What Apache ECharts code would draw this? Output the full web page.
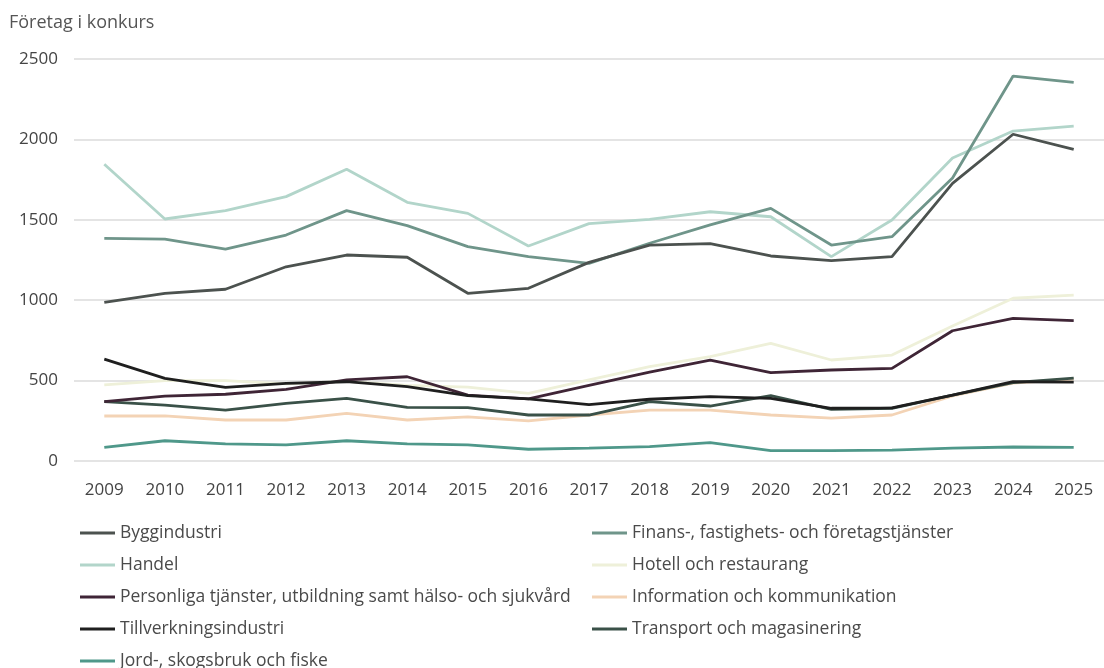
<!DOCTYPE html>
<html>
<head>
<meta charset="utf-8">
<script src="https://cdn.jsdelivr.net/npm/echarts@6/dist/echarts.min.js"></script>
<style>
html,body{margin:0;padding:0;background:#fff;}
#chart{width:1104px;height:668px;}
</style>
</head>
<body>
<div id="chart"></div>
<script>
const years = ['2009','2010','2011','2012','2013','2014','2015','2016','2017','2018','2019','2020','2021','2022','2023','2024','2025'];
const yTicks = [0, 500, 1000, 1500, 2000, 2500];
const yTitle = 'Företag i konkurs';

const byggindustri   = [987, 1043, 1068, 1208, 1281, 1267, 1043, 1074, 1235, 1343, 1352, 1275, 1246, 1271, 1727, 2032, 1938];
const finans         = [1385, 1380, 1318, 1405, 1557, 1464, 1333, 1271, 1229, 1354, 1468, 1571, 1343, 1395, 1760, 2394, 2355];
const handel         = [1845, 1505, 1557, 1644, 1814, 1609, 1540, 1337, 1476, 1503, 1550, 1519, 1271, 1499, 1884, 2052, 2083];
const hotell         = [473, 500, 500, 480, 495, 470, 460, 420, 504, 587, 649, 732, 628, 659, 840, 1012, 1032];
const personliga     = [369, 404, 415, 446, 504, 524, 410, 386, 470, 552, 628, 549, 566, 576, 810, 887, 873];
const information    = [280, 280, 255, 255, 296, 255, 274, 250, 286, 317, 317, 286, 267, 286, 405, 485, 510];
const tillverkning   = [634, 514, 458, 483, 493, 462, 406, 386, 350, 384, 400, 390, 328, 330, 410, 493, 490];
const transport      = [369, 348, 317, 359, 390, 334, 332, 286, 286, 369, 342, 406, 321, 328, 410, 487, 515];
const jord           = [85, 126, 106, 100, 126, 106, 100, 73, 80, 89, 114, 64, 64, 68, 80, 87, 85];

const names = {
  bygg: 'Byggindustri',
  finans: 'Finans-, fastighets- och företagstjänster',
  handel: 'Handel',
  hotell: 'Hotell och restaurang',
  pers: 'Personliga tjänster, utbildning samt hälso- och sjukvård',
  info: 'Information och kommunikation',
  till: 'Tillverkningsindustri',
  trans: 'Transport och magasinering',
  jord: 'Jord-, skogsbruk och fiske'
};

const FONT = '"Open Sans", sans-serif';

function line(name, data, color, z) {
  return {
    name: name, type: 'line', data: data, symbol: 'none', showSymbol: false,
    lineStyle: { color: color, width: 2.8 }, itemStyle: { color: color },
    z: z, emphasis: { disabled: true }
  };
}

const chart = echarts.init(document.getElementById('chart'), null, { renderer: 'canvas' });

const legendCommon = {
  orient: 'vertical',
  icon: 'rect',
  itemWidth: 35,
  itemHeight: 3,
  itemGap: 14,
  padding: 0,
  height: 200,
  selectedMode: false,
  textStyle: { fontFamily: FONT, fontSize: 17.5, color: '#4a4a4a', lineHeight: 17 }
};

chart.setOption({
  animation: false,
  backgroundColor: '#ffffff',
  title: {
    text: yTitle, left: 4, top: 9,
    textStyle: { fontFamily: FONT, fontSize: 18, fontWeight: 'normal', color: '#555' }
  },
  grid: { left: 74, top: 59, width: 1038, height: 402, containLabel: false },
  legend: [
    Object.assign({}, legendCommon, { left: 80, top: 524, data: [names.bygg, names.handel, names.pers, names.till, names.jord] }),
    Object.assign({}, legendCommon, { left: 592, top: 524, data: [names.finans, names.hotell, names.info, names.trans] })
  ],
  xAxis: {
    type: 'category', data: years, boundaryGap: true,
    axisLine: { show: false }, axisTick: { show: false },
    axisLabel: { fontFamily: FONT, fontSize: 17, color: '#444', margin: 21 }
  },
  yAxis: {
    type: 'value', min: yTicks[0], max: yTicks[yTicks.length - 1], interval: 500,
    axisLine: { show: false }, axisTick: { show: false },
    axisLabel: { fontFamily: FONT, fontSize: 17, color: '#444', margin: 16, formatter: function (v) { return String(v); } },
    splitLine: { lineStyle: { color: '#e4e4e4', width: 2 } }
  },
  series: [
    line(names.jord, jord, '#4f988a', 2),
    line(names.hotell, hotell, '#eef0d9', 2),
    line(names.info, information, '#f3d3b5', 2),
    line(names.handel, handel, '#b2d5ca', 3),
    line(names.finans, finans, '#6f958a', 3),
    line(names.bygg, byggindustri, '#4c524f', 3),
    line(names.trans, transport, '#3a5148', 4),
    line(names.pers, personliga, '#3f2536', 4),
    line(names.till, tillverkning, '#1f1f1f', 5)
  ]
});
</script>
</body>
</html>
